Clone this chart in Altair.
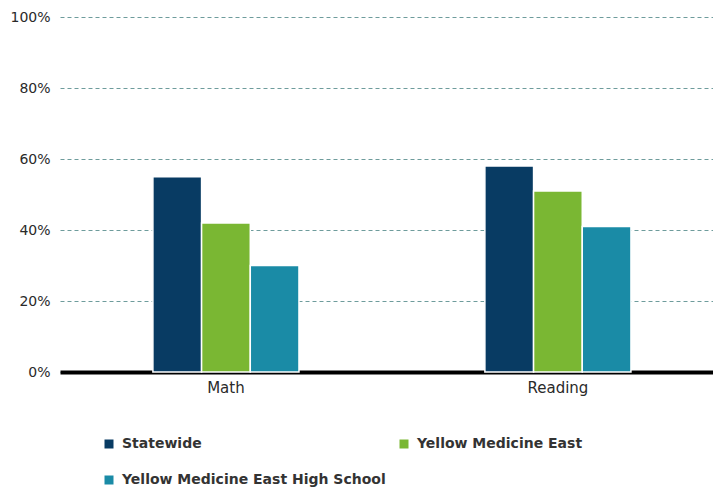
import altair as alt
import pandas as pd

subjects = ["Math", "Reading"]
series = ["Statewide", "Yellow Medicine East", "Yellow Medicine East High School"]
statewide = [55, 58]
yme = [42, 51]
yme_hs = [30, 41]
colors = ["#083b63", "#7ab733", "#1a8ba6"]
y_ticks = [0, 0.2, 0.4, 0.6, 0.8, 1.0]

rows = []
for name, vals in zip(series, [statewide, yme, yme_hs]):
    for subj, v in zip(subjects, vals):
        rows.append({"subject": subj, "series": name, "value": v / 100})
df = pd.DataFrame(rows)

FONT = "DejaVu Sans"

chart = (
    alt.Chart(df)
    .mark_bar(stroke="white", strokeWidth=1.5)
    .encode(
        x=alt.X(
            "subject:N",
            sort=subjects,
            title=None,
            scale=alt.Scale(paddingInner=0.56, paddingOuter=0.2635, align=0.531),
            axis=alt.Axis(
                labelAngle=0,
                ticks=False,
                domain=True,
                domainColor="#000000",
                domainWidth=4,
                labelFont=FONT,
                labelFontSize=15,
                labelColor="#2a2a2a",
                labelPadding=8,
                grid=False,
            ),
        ),
        xOffset=alt.XOffset(
            "series:N", sort=series, scale=alt.Scale(paddingInner=0, paddingOuter=0)
        ),
        y=alt.Y(
            "value:Q",
            title=None,
            scale=alt.Scale(domain=[0, 1]),
            axis=alt.Axis(
                values=y_ticks,
                format=".0%",
                ticks=False,
                domain=False,
                labelFont=FONT,
                labelFontSize=14,
                labelColor="#2a2a2a",
                labelPadding=10,
                grid=True,
                gridColor="#6e9c9c",
                gridDash=[4, 3],
                gridWidth=1,
            ),
        ),
        color=alt.Color(
            "series:N",
            sort=series,
            scale=alt.Scale(domain=series, range=colors),
            legend=alt.Legend(
                title=None,
                orient="none",
                direction="horizontal",
                legendX=42,
                legendY=420,
                columns=2,
                symbolType="square",
                symbolSize=81,
                symbolStrokeWidth=0,
                labelFont=FONT,
                labelFontSize=14,
                labelFontWeight="bold",
                labelColor="#333333",
                labelOffset=6,
                rowPadding=22,
                columnPadding=11,
                padding=0,
                labelLimit=400,
            ),
        ),
    )
    .properties(
        width=653,
        height=355,
        autosize=alt.AutoSizeParams(type="none"),
        padding={"left": 52, "top": 9, "right": 0, "bottom": 116},
    )
    .configure_view(stroke=None)
)

chart.save("out.html", embed_options={"renderer": "svg", "actions": False})
